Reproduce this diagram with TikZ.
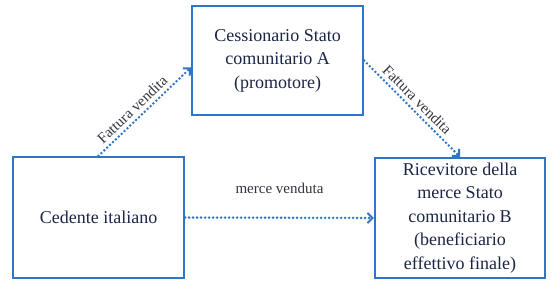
\documentclass[tikz,border=0pt]{standalone}
\usepackage{fontspec}
\setmainfont{Liberation Serif}
\usepackage{tikz}
\usetikzlibrary{arrows.meta,positioning}
\definecolor{BoxBlue}{HTML}{2E75C5}
\definecolor{TxtNavy}{HTML}{1B2647}
\definecolor{LblGray}{HTML}{33333F}

\begin{document}
\begin{tikzpicture}[
  x=1pt,y=-1pt,
  every node/.style={font=\fontsize{18}{23.5}\selectfont,text=TxtNavy},
  party/.style={draw=BoxBlue,line width=2.2pt,fill=white,
    minimum width=171pt,align=center,inner sep=2pt},
  flow/.style={-{Straight Barb[length=5pt,width=10pt,line width=2pt]},
    BoxBlue,line width=2.8pt,line cap=round,dash pattern=on 0pt off 4pt},
  lbl/.style={font=\fontsize{15}{17}\selectfont,text=LblGray}
]
  \useasboundingbox (0,0) rectangle (554,296);
  \node[party,minimum height=109pt] (cessionario) at (277.5,60.5)
    {Cessionario Stato\\comunitario A\\(promotore)};
  \node[party,minimum height=121pt] (cedente) at (98.5,217.5)
    {Cedente italiano};
  \node[party,minimum width=170pt,minimum height=120pt] (ricevitore) at (460,218)
    {Ricevitore della\\merce Stato\\comunitario B\\(beneficiario\\effettivo finale)};

  \draw[flow] (cedente.north) -- ([yshift=-7pt]cessionario.west)
    node[lbl,pos=0.44,above,sloped] {Fattura vendita};
  \draw[flow] (cessionario.east) -- (ricevitore.north)
    node[lbl,pos=0.48,above,sloped] {Fattura vendita};
  \draw[flow] (cedente.east) -- (ricevitore.west)
    node[lbl,midway,above=19pt] {merce venduta};
\end{tikzpicture}
\end{document}
